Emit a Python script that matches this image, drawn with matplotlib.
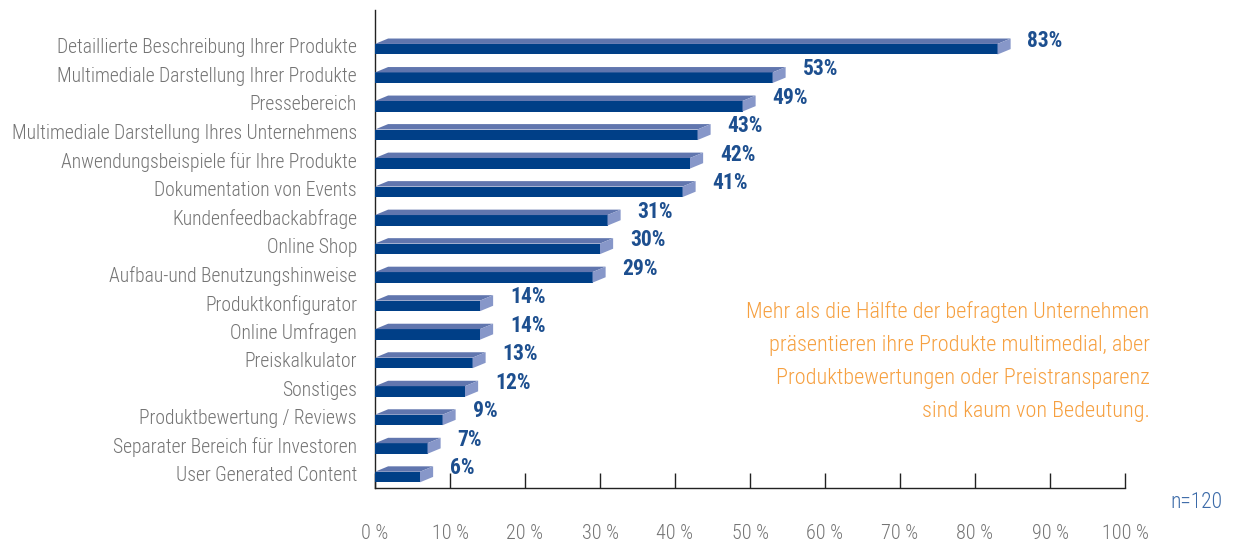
import matplotlib
matplotlib.use("Agg")
import matplotlib.pyplot as plt
from matplotlib.patches import Polygon
from matplotlib import font_manager

categories = [
    "Detaillierte Beschreibung Ihrer Produkte",
    "Multimediale Darstellung Ihrer Produkte",
    "Pressebereich",
    "Multimediale Darstellung Ihres Unternehmens",
    "Anwendungsbeispiele für Ihre Produkte",
    "Dokumentation von Events",
    "Kundenfeedbackabfrage",
    "Online Shop",
    "Aufbau-und Benutzungshinweise",
    "Produktkonfigurator",
    "Online Umfragen",
    "Preiskalkulator",
    "Sonstiges",
    "Produktbewertung / Reviews",
    "Separater Bereich für Investoren",
    "User Generated Content",
]
values = [83, 53, 49, 43, 42, 41, 31, 30, 29, 14, 14, 13, 12, 9, 7, 6]
xticks = list(range(0, 101, 10))
note = ("Mehr als die Hälfte der befragten Unternehmen\n"
        "präsentieren ihre Produkte multimedial, aber\n"
        "Produktbewertungen oder Preistransparenz\n"
        "sind kaum von Bedeutung.")

# condensed font, whichever is installed
names = {f.name for f in font_manager.fontManager.ttflist}
narrow = next((n for n in ["Roboto Condensed", "Fira Sans Condensed", "Liberation Sans Narrow"]
               if n in names), "DejaVu Sans")
plt.rcParams["font.family"] = [narrow, "DejaVu Sans"]

front_c = "#003f87"
top_c = "#6176ae"
side_c = "#8797c9"
label_c = "#1d4f8f"
gray = "#747474"

fig = plt.figure(figsize=(12.37, 5.46), dpi=100)
ax = fig.add_axes([375 / 1237, 58 / 546, 750 / 1237, 478 / 546])

dx, dy = 1.75, 0.19
y0, y1 = -0.07, 0.30
for i, v in enumerate(values):
    ax.barh(i + (y0 + y1) / 2, v, height=y1 - y0, color=front_c, zorder=3)
    ax.add_patch(Polygon([(0, i + y0), (v, i + y0), (v + dx, i + y0 - dy), (dx, i + y0 - dy)],
                         closed=True, color=top_c, zorder=3, lw=0))
    ax.add_patch(Polygon([(v, i + y0), (v + dx, i + y0 - dy), (v + dx, i + y1 - dy), (v, i + y1)],
                         closed=True, color=side_c, zorder=3, lw=0))
    ax.text(v + 4, i - 0.19, f"{v}%", color=label_c, fontsize=15.5, fontweight="bold",
            va="center", ha="left")

ax.set_xlim(0, 100)
ax.set_ylim(15.5, -1.26)
ax.set_yticks(range(len(categories)))
ax.set_yticklabels(categories, fontsize=14.1, color=gray, fontweight="light")
ax.tick_params(axis="y", length=0, pad=13)
ax.set_xticks(xticks)
ax.set_xticklabels([f"{t} %" for t in xticks], fontsize=14.5, color=gray, fontweight="light")
ax.tick_params(axis="x", direction="in", length=11, width=1, color="#222222", pad=26)
for s in ["top", "right"]:
    ax.spines[s].set_visible(False)
for s in ["left", "bottom"]:
    ax.spines[s].set_color("#222222")
    ax.spines[s].set_linewidth(1)

ax.text(106, 16.02, "n=120", color="#3b6aa8", fontsize=15.5, va="center", ha="left",
        clip_on=False, fontweight="light")
ax.text(103.3, 11.06, note, color="#f6a040", fontsize=16, ha="right", va="center",
        linespacing=1.75, fontweight="light")

fig.savefig("out.png", dpi=100)
